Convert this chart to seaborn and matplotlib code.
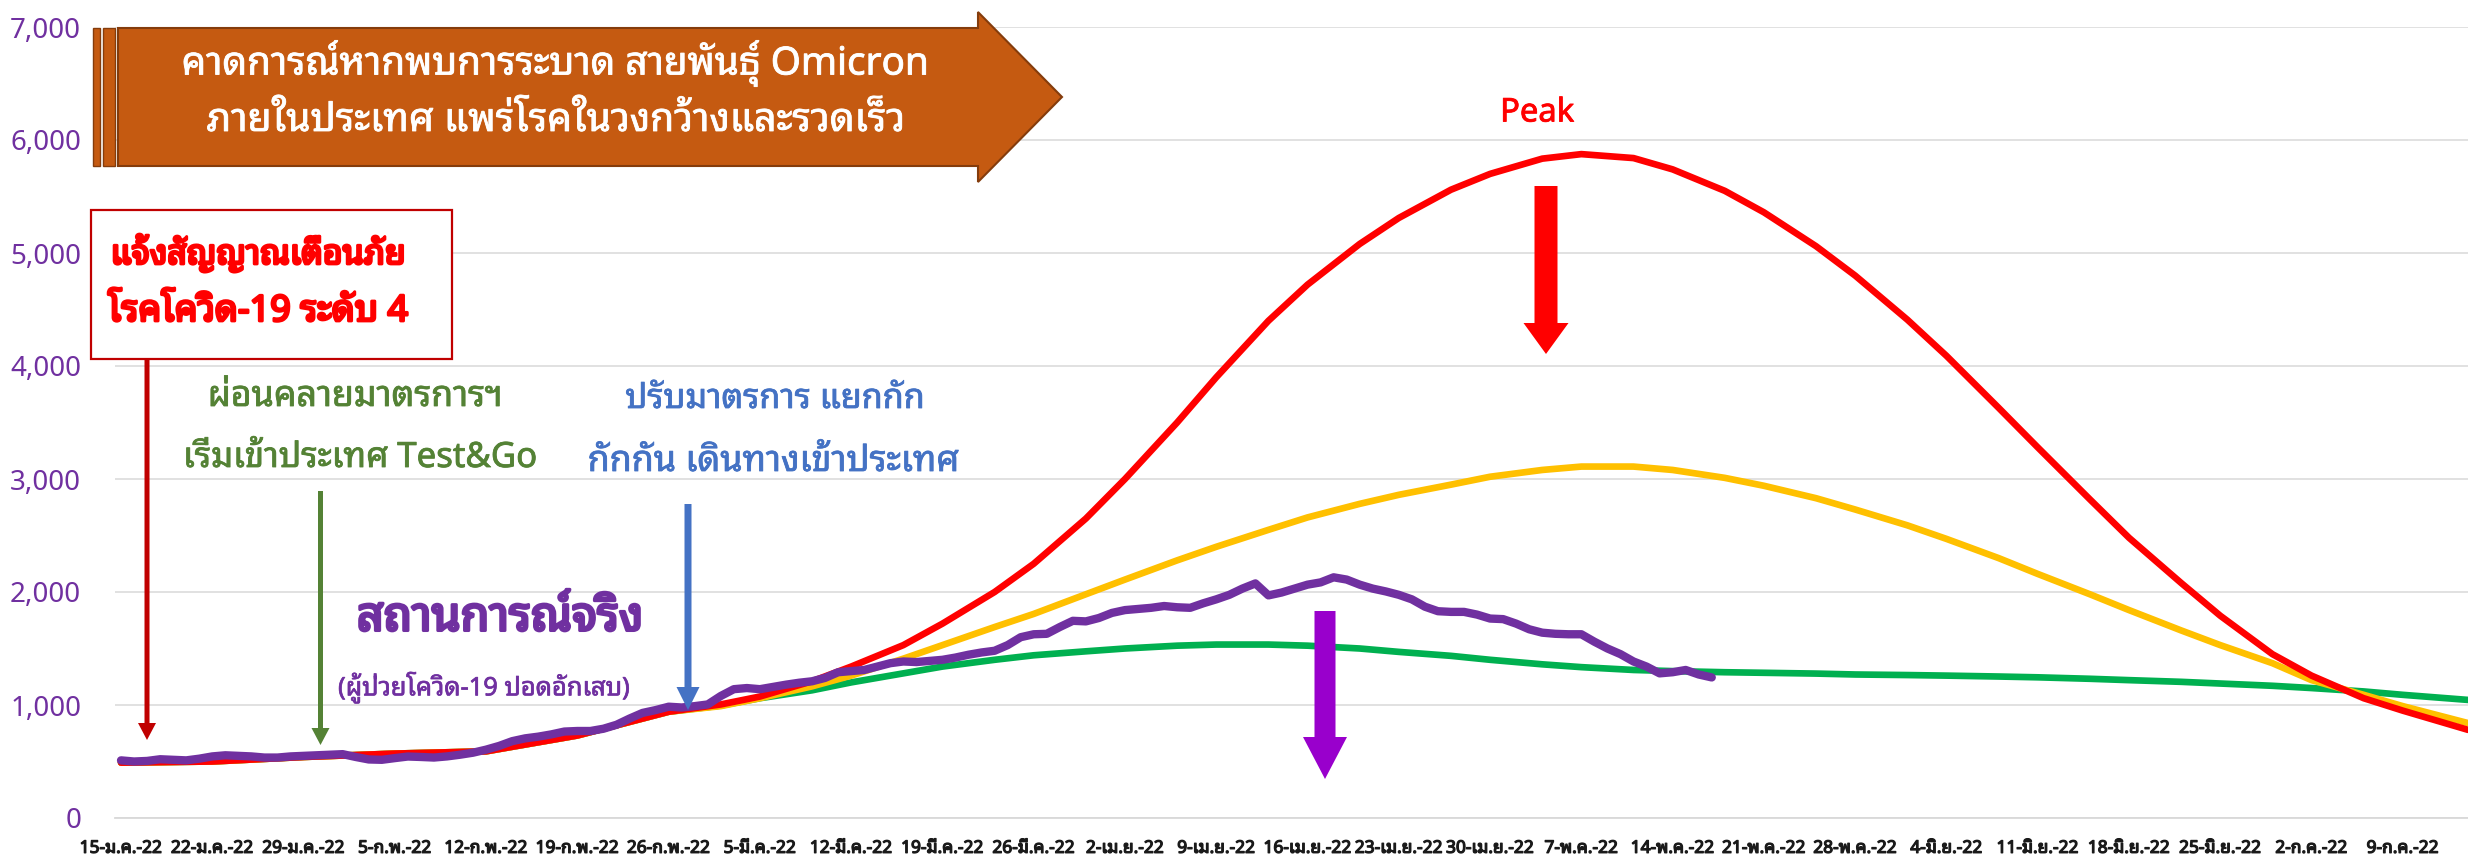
import numpy as np
import pandas as pd
import matplotlib
matplotlib.use("Agg")
import matplotlib.pyplot as plt
import matplotlib.patheffects as pe
import seaborn as sns
from matplotlib import font_manager as fm
from matplotlib.patches import Polygon, Rectangle

# ---------------- data ----------------
START = "2022-01-15"

# actual situation (COVID-19 pneumonia patients), daily from START
actual_cases = [
    510, 500, 505, 520, 515, 510, 525, 545, 555, 550,
    545, 535, 535, 545, 550, 555, 560, 565, 540, 518,
    515, 530, 544, 540, 535, 545, 560, 578, 605, 638,
    680, 705, 720, 740, 765, 770, 770, 790, 825, 880,
    930, 955, 985, 978, 990, 1005, 1080, 1140, 1150, 1140,
    1160, 1180, 1197, 1210, 1240, 1290, 1300, 1310, 1340, 1370,
    1385, 1380, 1390, 1400, 1420, 1445, 1465, 1480, 1530, 1600,
    1626, 1630, 1690, 1745, 1740, 1770, 1815, 1840, 1850, 1860,
    1876, 1865, 1860, 1900, 1935, 1975, 2030, 2076, 1970, 1995,
    2030, 2065, 2085, 2130, 2110, 2065, 2030, 2005, 1975, 1935,
    1870, 1830, 1824, 1824, 1800, 1765, 1760, 1720, 1670, 1640,
    1630, 1626, 1626, 1560, 1500, 1450, 1385, 1340, 1280, 1290,
    1310, 1270, 1244,
]

# forecast scenarios, read at these day offsets from START
forecast_day = [0, 7, 14, 21, 28, 35, 42,
                46, 49, 53, 56, 60, 63, 67, 70, 74, 77, 81, 84, 88, 91, 95, 98,
                102, 105, 109, 112, 116, 119, 123, 126, 130, 133, 137, 140, 144, 147,
                151, 154, 158, 161, 165, 168, 172, 175, 180]
forecast_red = [490, 500, 540, 570, 590, 730, 940,
                1005, 1075, 1210, 1340, 1530, 1720, 2000, 2250, 2650, 3000, 3500, 3900,
                4400, 4720, 5080, 5310, 5560, 5700, 5835, 5875, 5840, 5740, 5550, 5360,
                5060, 4800, 4410, 4090, 3630, 3280, 2820, 2480, 2080, 1790, 1450, 1260,
                1060, 950, 780]
forecast_yellow = [490, 500, 540, 570, 590, 730, 940,
                   990, 1060, 1165, 1260, 1410, 1530, 1690, 1806, 1980, 2110, 2280, 2400,
                   2550, 2660, 2780, 2860, 2950, 3020, 3080, 3110, 3110, 3080, 3010, 2940,
                   2830, 2730, 2590, 2470, 2300, 2160, 1980, 1840, 1660, 1530, 1370, 1220,
                   1090, 990, 840]
forecast_green = [490, 500, 540, 570, 590, 730, 940,
                  995, 1060, 1130, 1200, 1280, 1340, 1400, 1440, 1475, 1500, 1525, 1535,
                  1535, 1525, 1500, 1470, 1435, 1400, 1360, 1335, 1310, 1300, 1290, 1285,
                  1278, 1270, 1265, 1260, 1252, 1245, 1232, 1220, 1205, 1190, 1170, 1150,
                  1120, 1090, 1045]

tick_labels = [
    "15-ม.ค.-22", "22-ม.ค.-22", "29-ม.ค.-22", "5-ก.พ.-22", "12-ก.พ.-22", "19-ก.พ.-22",
    "26-ก.พ.-22", "5-มี.ค.-22", "12-มี.ค.-22", "19-มี.ค.-22", "26-มี.ค.-22", "2-เม.ย.-22",
    "9-เม.ย.-22", "16-เม.ย.-22", "23-เม.ย.-22", "30-เม.ย.-22", "7-พ.ค.-22", "14-พ.ค.-22",
    "21-พ.ค.-22", "28-พ.ค.-22", "4-มิ.ย.-22", "11-มิ.ย.-22", "18-มิ.ย.-22", "25-มิ.ย.-22",
    "2-ก.ค.-22", "9-ก.ค.-22",
]
y_ticks = [0, 1000, 2000, 3000, 4000, 5000, 6000, 7000]

banner_lines = ["คาดการณ์หากพบการระบาด สายพันธุ์ Omicron",
                "ภายในประเทศ แพร่โรคในวงกว้างและรวดเร็ว"]
alert_lines = ["แจ้งสัญญาณเตือนภัย", "โรคโควิด-19 ระดับ 4"]
relax_lines = ["ผ่อนคลายมาตรการฯ", "เริ่มเข้าประเทศ Test&Go"]
adjust_lines = ["ปรับมาตรการ แยกกัก", "กักกัน เดินทางเข้าประเทศ"]
actual_title = "สถานการณ์จริง"
actual_sub = "(ผู้ป่วยโควิด-19 ปอดอักเสบ)"
peak_label = "Peak"

# ---------------- style ----------------
sns.set_style("white")
names = {f.name for f in fm.fontManager.ttflist}
pref = ["Noto Sans Thai Looped", "IBM Plex Sans Thai Looped", "Sarabun", "Noto Sans Thai",
        "IBM Plex Sans Thai", "Prompt", "Kanit", "Trirong"]
THAI = next((n for n in pref if n in names), "DejaVu Sans")
plt.rcParams["font.family"] = [THAI, "DejaVu Sans"]

W, H = 2468, 857
fig = plt.figure(figsize=(W / 100, H / 100), dpi=100)
ax_left = 114.5
ax = fig.add_axes([ax_left / W, (H - 818) / H, 1 - ax_left / W, (818 - 27) / H])

start = pd.Timestamp(START)
act_dates = pd.date_range(START, periods=len(actual_cases), freq="D")
fdates = start + pd.to_timedelta(forecast_day, unit="D")

lw_f = 4.8
sns.lineplot(x=fdates, y=forecast_green, ax=ax, color="#00B050", linewidth=lw_f, zorder=3,
             solid_joinstyle="round")
sns.lineplot(x=fdates, y=forecast_yellow, ax=ax, color="#FFC000", linewidth=lw_f, zorder=4,
             solid_joinstyle="round")
sns.lineplot(x=fdates, y=forecast_red, ax=ax, color="#FF0000", linewidth=lw_f, zorder=5,
             solid_joinstyle="round")
sns.lineplot(x=act_dates, y=actual_cases, ax=ax, color="#7030A0", linewidth=6, zorder=6,
             solid_joinstyle="round", solid_capstyle="round")

ax.set_xlim(start - pd.Timedelta(hours=12), start + pd.Timedelta(days=180))
ax.set_ylim(0, 7000)
ax.set_xlabel("")
ax.set_ylabel("")
ax.set_yticks(y_ticks)
ax.set_yticklabels([f"{v:,}" for v in y_ticks])
tick_dates = pd.date_range(START, periods=len(tick_labels), freq="7D")
ax.set_xticks(tick_dates)
ax.set_xticklabels(tick_labels)
ax.grid(axis="y", color="#D9D9D9", linewidth=1.1, zorder=0)
ax.set_axisbelow(True)
for s in ["top", "right", "left"]:
    ax.spines[s].set_visible(False)
ax.spines["bottom"].set_color("#D9D9D9")
ax.spines["bottom"].set_linewidth(1.3)
ax.tick_params(axis="y", length=0, pad=24, labelsize=20, labelcolor="#7030A0")
ax.tick_params(axis="x", length=5, width=1, color="#D9D9D9", pad=10, labelsize=12.5,
               labelcolor="#1a1a1a")
for t in ax.get_xticklabels():
    t.set_path_effects([pe.withStroke(linewidth=0.9, foreground="#1a1a1a")])

# ---------------- annotations ----------------
def fx(x):
    return x / W


def fy(y):
    return 1 - y / H


def poly(pts, fc, ec="none", lw=0, z=10):
    p = Polygon([(fx(a), fy(b)) for a, b in pts], closed=True, transform=fig.transFigure,
                facecolor=fc, edgecolor=ec, linewidth=lw, zorder=z)
    fig.add_artist(p)


def varrow(x, y0, y1, sw, hw, hl, color):
    pts = [(x - sw / 2, y0), (x + sw / 2, y0), (x + sw / 2, y1 - hl), (x + hw / 2, y1 - hl),
           (x, y1), (x - hw / 2, y1 - hl), (x - sw / 2, y1 - hl)]
    poly(pts, color, z=12)


# banner arrow
BROWN, BROWN_E = "#C55A11", "#843C0C"
poly([(93, 28), (100, 28), (100, 166), (93, 166)], BROWN, BROWN_E, 1.0)
poly([(103, 28), (115, 28), (115, 166), (103, 166)], BROWN, BROWN_E, 1.0)
poly([(118, 28), (978, 28), (978, 12), (1062, 97), (978, 182), (978, 166), (118, 166)],
     BROWN, BROWN_E, 1.5)

# alert box
fig.add_artist(Rectangle((fx(91), fy(359)), (452 - 91) / W, (359 - 210) / H,
                         transform=fig.transFigure, facecolor="white", edgecolor="#C00000",
                         linewidth=1.6, zorder=10))

texts = []


def ftext(x, y, s, w, bold=0.0, **kw):
    t = fig.text(fx(x), fy(y), s, ha="center", va="center", zorder=15, **kw)
    if bold:
        t.set_path_effects([pe.withStroke(linewidth=bold, foreground=kw.get("color", "k"))])
    texts.append((t, w))
    return t


ftext(555, 63, banner_lines[0], 748, color="white", fontsize=30, bold=0.6)
ftext(556, 121, banner_lines[1], 699, color="white", fontsize=30, bold=0.6)
ftext(258, 253, alert_lines[0], 295, color="#FF0000", fontsize=26, bold=2.0)
ftext(258, 312, alert_lines[1], 300, color="#FF0000", fontsize=26, bold=2.0)
ftext(355, 397, relax_lines[0], 295, color="#548235", fontsize=24, bold=0.6)
ftext(360, 458, relax_lines[1], 355, color="#548235", fontsize=24, bold=0.6)
ftext(775, 399, adjust_lines[0], 300, color="#4472C4", fontsize=24, bold=0.6)
ftext(773, 462, adjust_lines[1], 372, color="#4472C4", fontsize=24, bold=0.6)
ftext(500, 618, actual_title, 286, color="#7030A0", fontsize=34, bold=2.2)
ftext(484, 687, actual_sub, 292, color="#7030A0", fontsize=20, bold=0.5)
ftext(1537, 113, peak_label, 74, color="#FF0000", fontsize=22, bold=0.6)

# arrows
varrow(147, 359, 740, 5, 18, 17, "#C00000")
varrow(320.5, 491, 745, 5, 18, 17, "#548235")
varrow(688, 504, 710, 7, 23, 23, "#4472C4")
varrow(1546, 186, 354, 23, 45, 31, "#FF0000")
varrow(1325, 611, 779, 21, 44, 42, "#9900CC")

# fit text widths to the reference
fig.canvas.draw()
r = fig.canvas.get_renderer()
for t, w in texts:
    bb = t.get_window_extent(r)
    if bb.width > 0:
        t.set_fontsize(t.get_fontsize() * w / bb.width)

fig.savefig("out.png", dpi=100)
